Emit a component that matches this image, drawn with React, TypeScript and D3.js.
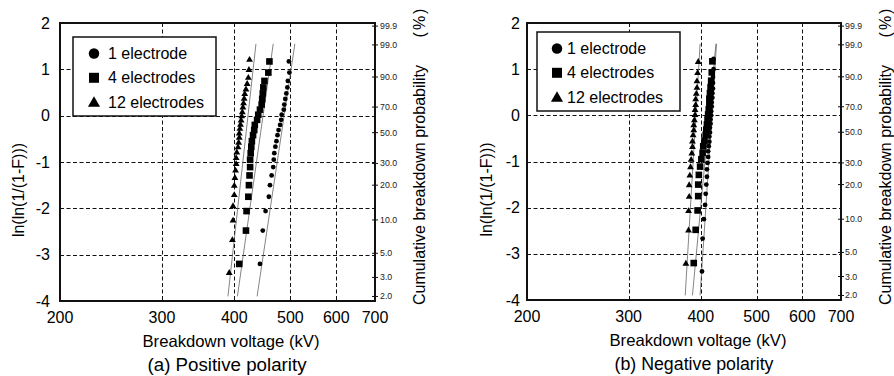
import * as d3 from "d3";

const xTicks = [200, 300, 400, 500, 600, 700];
const xGrid = [300, 400, 500, 600];
const yTicks = [2, 1, 0, -1, -2, -3, -4];
const yGrid = [1, 0, -1, -2, -3];
const probTicks = [99.9, 99.0, 90.0, 70.0, 50.0, 30.0, 20.0, 10.0, 5.0, 3.0, 2.0];

// plotting positions ln(ln(1/(1-F)))
const rank24 = [-3.2, -2.48, -2.06, -1.75, -1.5, -1.29, -1.11, -0.95, -0.81, -0.67, -0.55, -0.42, -0.31, -0.2, -0.09, 0.02, 0.13, 0.24, 0.36, 0.48, 0.61, 0.75, 0.93, 1.17];
const rank29 = [-3.38, -2.67, -2.25, -1.94, -1.7, -1.5, -1.33, -1.17, -1.03, -0.9, -0.78, -0.67, -0.57, -0.46, -0.37, -0.27, -0.18, -0.09, 0.0, 0.09, 0.19, 0.28, 0.38, 0.48, 0.58, 0.7, 0.83, 1.0, 1.22];

// (a) positive polarity, breakdown voltage kV
const pos1 = [443, 448, 453, 459, 461, 464, 467, 468, 469, 471, 473, 475, 477, 480, 482, 483, 487, 488, 490, 492, 494, 495, 498, 497];
const pos4 = [408, 419, 420, 423, 424, 425, 426, 426, 427, 428, 429, 431, 433, 434, 438, 440, 443, 446, 447, 448, 449, 451, 458, 460];
const pos12 = [392, 397, 398, 398, 400, 400, 401, 402, 403, 403, 404, 406, 407, 408, 408, 409, 410, 411, 412, 413, 414, 415, 416, 417, 419, 421, 423, 424, 425];

// (b) negative polarity
const neg1 = [402, 403, 405, 407, 408, 409, 410, 410, 411, 412, 412, 413, 414, 414, 415, 415, 416, 416, 417, 417, 418, 418, 419, 419, 420, 420, 420, 421, 421];
const neg4 = [389, 392, 395, 396, 396, 397, 399, 401, 403, 404, 406, 408, 409, 410, 411, 412, 413, 414, 414, 415, 416, 417, 418, 419];
const neg12 = [377, 381, 381, 382, 382, 383, 384, 385, 386, 387, 387, 388, 389, 389, 390, 391, 391, 392, 392, 393, 394, 394, 395, 396];

// fitted Weibull lines: voltage at fitY[0] and fitY[1]
const fitY = [-3.9, 1.55];
const posFits = [[438, 509], [405, 467], [390, 436]];
const negFits = [[399, 426], [387, 425], [376, 399]];

const legendLabels = ["1 electrode", "4 electrodes", "12 electrodes"];
const FONT = "'Liberation Sans', Arial, Helvetica, sans-serif";

function Marker({ kind, x, y, s }: { kind: number; x: number; y: number; s: number }) {
  if (kind === 0) return <circle cx={x} cy={y} r={s * 0.42} fill="#000" />;
  if (kind === 1) return <rect x={x - s * 0.5} y={y - s * 0.5} width={s} height={s} fill="#000" />;
  const h = s * 0.95;
  return <path d={`M${x},${y - h * 0.55}L${x + s * 0.55},${y + h * 0.45}L${x - s * 0.55},${y + h * 0.45}Z`} fill="#000" />;
}

function Panel(p: any) {
  const { x0, y0, w, h, series, fits, ranks, legend, tickEnd, yTitleX, probX, probTitleX, caption, titleX } = p;
  const x = d3.scaleLog().domain([200, 700]).range([x0, x0 + w]);
  const y = d3.scaleLinear().domain([-4, 2]).range([y0 + h, y0]);
  const lnln = (pc: number) => Math.log(-Math.log(1 - pc / 100));
  const line = d3.line<number[]>().x((d) => x(d[0])).y((d) => y(d[1]));
  const r = (v: number) => Math.round(v) + 0.5;
  return (
    <g>
      {xGrid.map((v) => (
        <line key={"gx" + v} x1={r(x(v))} x2={r(x(v))} y1={y0} y2={y0 + h} stroke="#111" strokeWidth={1} strokeDasharray="4,2.5" />
      ))}
      {yGrid.map((v) => (
        <line key={"gy" + v} x1={x0} x2={x0 + w} y1={r(y(v))} y2={r(y(v))} stroke="#111" strokeWidth={1} strokeDasharray="4,2.5" />
      ))}
      {fits.map((f: number[], i: number) => (
        <path key={"f" + i} d={line([[f[0], fitY[0]], [f[1], fitY[1]]]) || ""} stroke="#666" strokeWidth={0.8} fill="none" />
      ))}
      {series.map((vals: number[], k: number) =>
        vals.map((v, i) => <Marker key={k + "-" + i} kind={k} x={x(v)} y={y(ranks[k][i])} s={k === 0 ? 5.7 : k === 1 ? 6.6 : 6.2} />)
      )}
      <rect x={x0} y={y0} width={w} height={h} fill="none" stroke="#111" strokeWidth={2} />
      {/* legend */}
      <rect x={legend.x} y={legend.y} width={legend.w} height={legend.h} fill="#fff" stroke="#111" strokeWidth={1.5} />
      {legendLabels.map((t, i) => {
        const ly = legend.y + 16.5 + i * 24.3;
        return (
          <g key={t}>
            <Marker kind={i} x={legend.mx} y={ly} s={i === 0 ? 12.5 : i === 1 ? 10 : 11} />
            <text x={legend.tx} y={ly} dominantBaseline="central" fontSize={16}>{t}</text>
          </g>
        );
      })}
      {/* left axis */}
      {yTicks.map((v) => (
        <text key={"ty" + v} x={tickEnd} y={y(v)} textAnchor="end" dominantBaseline="central" fontSize={16}>{v}</text>
      ))}
      <text transform={`translate(${yTitleX},${y0 + h / 2 + 28}) rotate(-90)`} textAnchor="middle" dominantBaseline="central" fontSize={16}>ln(ln(1/(1-F)))</text>
      {/* bottom axis */}
      {xTicks.map((v) => (
        <text key={"tx" + v} x={x(v)} y={y0 + h + 22} textAnchor="middle" fontSize={16}>{v}</text>
      ))}
      <text x={titleX} y={y0 + h + 46} textAnchor="middle" fontSize={16.5} textLength={177} lengthAdjust="spacingAndGlyphs">Breakdown voltage (kV)</text>
      <text x={titleX - 4} y={y0 + h + 70} textAnchor="middle" fontSize={17.5} textLength={159} lengthAdjust="spacingAndGlyphs">{caption}</text>
      {/* right probability axis */}
      {probTicks.map((pc) => (
        <g key={"p" + pc}>
          <line x1={x0 + w - 3} x2={x0 + w + 3} y1={y(lnln(pc))} y2={y(lnln(pc))} stroke="#111" strokeWidth={1} />
          <text x={probX} y={y(lnln(pc))} dominantBaseline="central" fontSize={8.8} fill="#222">{pc.toFixed(1)}</text>
        </g>
      ))}
      <text transform={`translate(${probTitleX},${y0 + 162}) rotate(-90)`} textAnchor="middle" dominantBaseline="central" fontSize={16}>Cumulative breakdown probability</text>
      <text transform={`translate(${probTitleX},${y0 - 1}) rotate(-90)`} textAnchor="middle" dominantBaseline="central" fontSize={16} letterSpacing={2}>(%)</text>
    </g>
  );
}

export default function App() {
  return (
    <svg width={894} height={376} style={{ position: "absolute", left: 0, top: 0, background: "#fff" }} fontFamily={FONT}>
      <rect width={894} height={376} fill="#fff" />
      <Panel
        x0={60} y0={23} w={315} h={278}
        series={[pos1, pos4, pos12]} ranks={[rank24, rank24, rank29]} fits={posFits}
        legend={{ x: 73, y: 37, w: 143, h: 79, mx: 94, tx: 108 }}
        tickEnd={50} yTitleX={18} probX={380} probTitleX={419}
        caption="(a) Positive polarity" titleX={231}
      />
      <Panel
        x0={527} y0={23} w={314} h={277}
        series={[neg1, neg4, neg12]} ranks={[rank29, rank24, rank24]} fits={negFits}
        legend={{ x: 537, y: 32, w: 143, h: 79, mx: 557, tx: 567 }}
        tickEnd={520} yTitleX={486} probX={845} probTitleX={885}
        caption="(b) Negative polarity" titleX={698}
      />
    </svg>
  );
}
